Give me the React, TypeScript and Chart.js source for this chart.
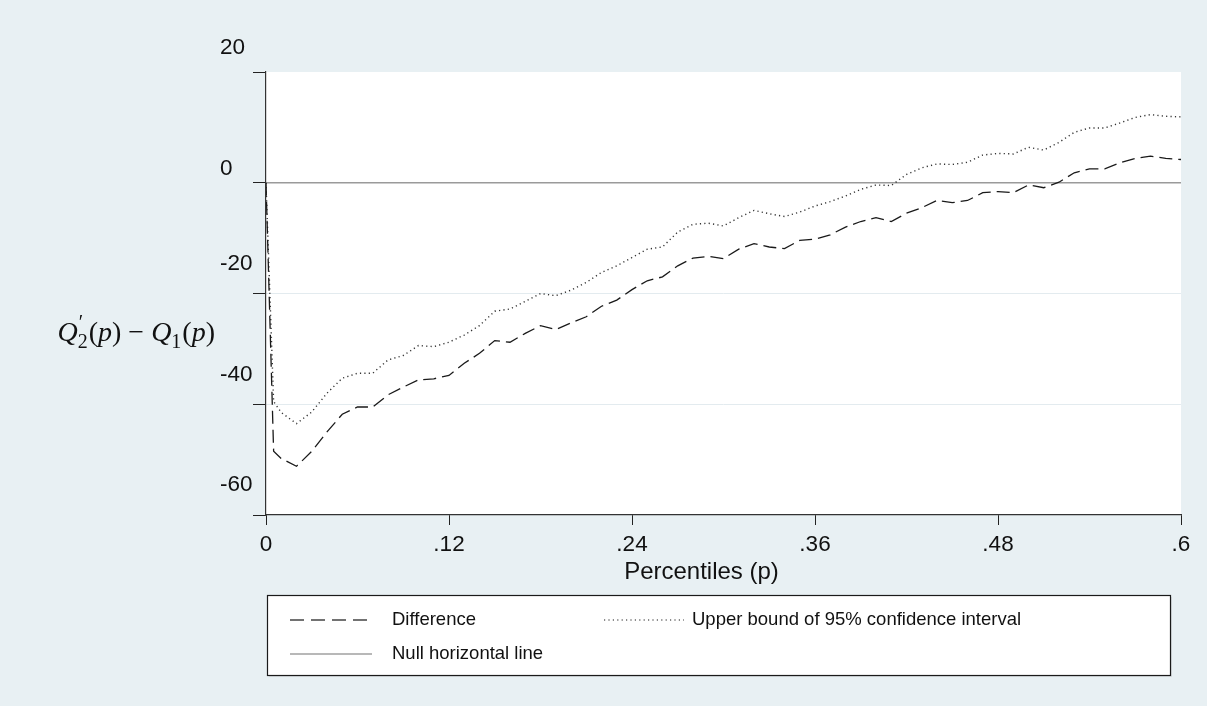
import React, { useEffect, useRef } from "react";
import { Chart, registerables } from "chart.js";

Chart.register(...registerables);

// ---------------- data ----------------
const percentiles = [
  0, 0.005, 0.01, 0.02, 0.03, 0.04, 0.05, 0.06, 0.07, 0.08, 0.09,
  0.1, 0.11, 0.12, 0.13, 0.14, 0.15, 0.16, 0.17, 0.18, 0.19,
  0.2, 0.21, 0.22, 0.23, 0.24, 0.25, 0.26, 0.27, 0.28, 0.29,
  0.3, 0.31, 0.32, 0.33, 0.34, 0.35, 0.36, 0.37, 0.38, 0.39,
  0.4, 0.41, 0.42, 0.43, 0.44, 0.45, 0.46, 0.47, 0.48, 0.49,
  0.5, 0.51, 0.52, 0.53, 0.54, 0.55, 0.56, 0.57, 0.58, 0.59, 0.6,
];

const difference = [
  0, -48.5, -49.8, -51.2, -48.5, -45.0, -41.8, -40.5, -40.5, -38.3, -36.9,
  -35.6, -35.4, -34.8, -32.6, -30.8, -28.5, -28.8, -27.2, -25.8, -26.5,
  -25.3, -24.2, -22.3, -21.2, -19.3, -17.7, -17.0, -15.0, -13.6, -13.3,
  -13.7, -12.0, -11.0, -11.6, -11.9, -10.4, -10.2, -9.4, -8.0, -7.0,
  -6.3, -7.0, -5.5, -4.5, -3.2, -3.6, -3.2, -1.8, -1.6, -1.8,
  -0.4, -0.9, 0.1, 1.8, 2.5, 2.5, 3.6, 4.4, 4.8, 4.4, 4.2,
];

const upperBound = [
  0, -39.5, -41.5, -43.5, -41.4, -38.0, -35.3, -34.4, -34.4, -32.0, -31.2,
  -29.4, -29.6, -28.8, -27.5, -25.8, -23.2, -22.8, -21.4, -20.0, -20.4,
  -19.4, -18.0, -16.2, -15.0, -13.5, -12.0, -11.6, -8.9, -7.5, -7.3,
  -7.8, -6.3, -5.0, -5.6, -6.1, -5.3, -4.2, -3.4, -2.4, -1.2,
  -0.4, -0.5, 1.5, 2.7, 3.4, 3.3, 3.7, 5.0, 5.3, 5.2,
  6.4, 5.9, 7.3, 9.1, 9.9, 9.9, 10.8, 11.8, 12.3, 12.0, 11.9,
];

const nullP = [0, 0.6];
const nullValues = [0, 0];

const xTickValues = [0, 0.12, 0.24, 0.36, 0.48, 0.6];
const xTickLabels = ["0", ".12", ".24", ".36", ".48", ".6"];
const yTickValues = [20, 0, -20, -40, -60];
const yTickLabels = ["20", "0", "-20", "-40", "-60"];
const yGridValues = [-20, -40];

const seriesLabels = [
  "Difference",
  "Upper bound of 95% confidence interval",
  "Null horizontal line",
];
const xTitle = "Percentiles (p)";

// ---------------- styles / layout ----------------
const W = 1207;
const H = 706;
const BG = "#e8f0f3";
const SANS = '"Liberation Sans", Arial, sans-serif';
const SERIF = '"Liberation Serif", "DejaVu Serif", serif';
const TICK_FONT = 22.5;
const Y_LABEL_LEFT = 220;
const Y_LABEL_DY = [-24, -14, -30, -29, -30];
const DIFF_DASH = [13, 6];
const DOT_DASH = [1.2, 3.2];

function drawMathTitle(ctx: CanvasRenderingContext2D, rightX: number, baseY: number, size: number) {
  const it = `italic ${size}px ${SERIF}`;
  const rm = `${size}px ${SERIF}`;
  const sm = `${Math.round(size * 0.7)}px ${SERIF}`;
  type Run = { t?: string; f?: string; sup?: string; sub?: string };
  const runs: Run[] = [
    { t: "Q", f: it },
    { sup: "\u2032", sub: "2" },
    { t: "(", f: rm },
    { t: "p", f: it },
    { t: ")", f: rm },
    { t: " \u2212 ", f: rm },
    { t: "Q", f: it },
    { sub: "1" },
    { t: "(", f: rm },
    { t: "p", f: it },
    { t: ")", f: rm },
  ];
  const widthOf = (r: Run) => {
    if (r.t !== undefined) {
      ctx.font = r.f!;
      return ctx.measureText(r.t).width;
    }
    ctx.font = sm;
    const a = r.sup ? ctx.measureText(r.sup).width : 0;
    const b = r.sub ? ctx.measureText(r.sub).width : 0;
    return Math.max(a, b) + 1;
  };
  const total = runs.reduce((s, r) => s + widthOf(r), 0);
  let x = rightX - total;
  ctx.textAlign = "left";
  ctx.textBaseline = "alphabetic";
  for (const r of runs) {
    const w = widthOf(r);
    if (r.t !== undefined) {
      ctx.font = r.f!;
      ctx.fillText(r.t, x, baseY);
    } else {
      ctx.font = sm;
      if (r.sup) ctx.fillText(r.sup, x + 1, baseY - size * 0.42);
      if (r.sub) ctx.fillText(r.sub, x, baseY + size * 0.25);
    }
    x += w;
  }
}

const decor = {
  id: "decor",
  beforeDraw(chart: any) {
    const { ctx, chartArea: a, width, height } = chart;
    ctx.save();
    ctx.fillStyle = BG;
    ctx.fillRect(0, 0, width, height);
    ctx.fillStyle = "#ffffff";
    ctx.fillRect(a.left, a.top, a.right - a.left, a.bottom - a.top);
    ctx.restore();
  },
  afterDraw(chart: any) {
    const ctx: CanvasRenderingContext2D = chart.ctx;
    const ys = chart.scales.y;
    const a = chart.chartArea;
    ctx.save();
    // y tick labels
    ctx.fillStyle = "#111";
    ctx.font = `${TICK_FONT}px ${SANS}`;
    ctx.textAlign = "left";
    ctx.textBaseline = "middle";
    yTickValues.forEach((v, i) => {
      ctx.fillText(yTickLabels[i], Y_LABEL_LEFT, ys.getPixelForValue(v) + Y_LABEL_DY[i]);
    });
    // x title
    ctx.font = `24px ${SANS}`;
    ctx.textAlign = "center";
    ctx.fillText(xTitle, (a.left + a.right) / 2 - 22, 572);
    // y title
    ctx.fillStyle = "#111";
    drawMathTitle(ctx, 215, 341, 28);

    // legend box
    const bx = 267, by = 595, bw = 903, bh = 80;
    ctx.fillStyle = "#d8dde0";
    ctx.fillRect(bx + 2, by + 2, bw, bh);
    ctx.fillStyle = "#ffffff";
    ctx.fillRect(bx, by, bw, bh);
    ctx.strokeStyle = "#1a1a1a";
    ctx.lineWidth = 1.2;
    ctx.strokeRect(bx + 0.5, by + 0.5, bw, bh);

    const row1 = 620, row2 = 654;
    ctx.lineWidth = 1.3;
    // difference sample
    ctx.strokeStyle = "#444";
    ctx.setLineDash([14, 7]);
    ctx.beginPath();
    ctx.moveTo(290, row1);
    ctx.lineTo(372, row1);
    ctx.stroke();
    // upper sample
    ctx.strokeStyle = "#666";
    ctx.setLineDash(DOT_DASH);
    ctx.beginPath();
    ctx.moveTo(604, row1);
    ctx.lineTo(684, row1);
    ctx.stroke();
    // null sample
    ctx.setLineDash([]);
    ctx.strokeStyle = "#a0a0a0";
    ctx.lineWidth = 1.5;
    ctx.beginPath();
    ctx.moveTo(290, row2);
    ctx.lineTo(372, row2);
    ctx.stroke();

    ctx.fillStyle = "#111";
    ctx.font = `18.5px ${SANS}`;
    ctx.textAlign = "left";
    ctx.textBaseline = "middle";
    ctx.fillText(seriesLabels[0], 392, row1);
    ctx.fillText(seriesLabels[1], 692, row1);
    ctx.fillText(seriesLabels[2], 392, row2);
    ctx.restore();
  },
};

export default function App() {
  const ref = useRef<HTMLCanvasElement>(null);
  useEffect(() => {
    const prev = document.body.style.margin;
    document.body.style.margin = "0";
    const toPts = (xs: number[], ys: number[]) => xs.map((x, i) => ({ x, y: ys[i] }));
    const chart = new Chart(ref.current!, {
      type: "line",
      data: {
        datasets: [
          {
            label: seriesLabels[0],
            data: toPts(percentiles, difference),
            borderColor: "#1a1a1a",
            borderWidth: 1.3,
            borderDash: DIFF_DASH,
            pointRadius: 0,
            tension: 0,
            fill: false,
          },
          {
            label: seriesLabels[1],
            data: toPts(percentiles, upperBound),
            borderColor: "#333",
            borderWidth: 1.4,
            borderDash: DOT_DASH,
            pointRadius: 0,
            tension: 0,
            fill: false,
          },
          {
            label: seriesLabels[2],
            data: toPts(nullP, nullValues),
            borderColor: "#9a9a9a",
            borderWidth: 1.5,
            pointRadius: 0,
            tension: 0,
            fill: false,
          },
        ],
      },
      options: {
        animation: false,
        responsive: false,
        maintainAspectRatio: false,
        devicePixelRatio: 1,
        layout: { padding: { top: 72, right: 26, left: 0, bottom: 0 } },
        plugins: {
          legend: { display: false },
          tooltip: { enabled: false },
        },
        events: [],
        scales: {
          x: {
            type: "linear",
            min: 0,
            max: 0.6,
            afterBuildTicks: (s: any) => {
              s.ticks = xTickValues.map((v) => ({ value: v }));
            },
            afterFit: (s: any) => {
              s.height = 191;
            },
            ticks: {
              color: "#111",
              font: { family: SANS, size: TICK_FONT },
              padding: 6,
              maxRotation: 0,
              callback: (_v: any, i: number) => xTickLabels[i],
            },
            grid: {
              color: "rgba(0,0,0,0)",
              drawTicks: true,
              tickLength: 10,
              tickColor: "#222",
              tickWidth: 1,
            },
            border: { display: true, color: "#333", width: 1.2 },
          },
          y: {
            type: "linear",
            min: -60,
            max: 20,
            afterBuildTicks: (s: any) => {
              s.ticks = yTickValues.map((v) => ({ value: v }));
            },
            afterFit: (s: any) => {
              s.width = 266;
            },
            ticks: {
              color: "rgba(0,0,0,0)",
              font: { family: SANS, size: TICK_FONT },
            },
            grid: {
              color: (c: any) =>
                c.tick && yGridValues.includes(c.tick.value) ? "#e3ebef" : "rgba(0,0,0,0)",
              drawTicks: true,
              tickLength: 13,
              tickColor: "#222",
              tickWidth: 1,
            },
            border: { display: true, color: "#333", width: 1.2 },
          },
        },
      },
      plugins: [decor],
    } as any);
    return () => {
      chart.destroy();
      document.body.style.margin = prev;
    };
  }, []);
  return (
    <div style={{ width: W, height: H, background: BG }}>
      <canvas ref={ref} width={W} height={H} style={{ display: "block" }} />
    </div>
  );
}
